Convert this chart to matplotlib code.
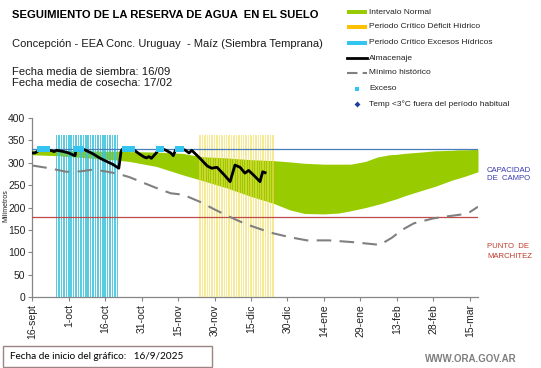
import matplotlib
matplotlib.use("Agg")
import matplotlib.pyplot as plt
from matplotlib.patches import Rectangle
from matplotlib.lines import Line2D
import numpy as np

plt.rcParams['font.family'] = ['Liberation Sans', 'DejaVu Sans']

# ---------------- data (day 0 = 16-sept-2025) ----------------
tick_labels = ['16-sept', '1-oct', '16-oct', '31-oct', '15-nov', '30-nov', '15-dic',
               '30-dic', '14-ene', '29-ene', '13-feb', '28-feb', '15-mar']
tick_days = [0, 15, 30, 45, 60, 75, 90, 105, 120, 135, 150, 165, 180]
x_end = 183.4

capacidad_campo = 330
punto_marchitez = 180

# Intervalo normal (lower / upper)
normal_days = [0, 10, 20, 30, 35, 40, 51, 62, 69, 80, 90, 99, 106, 112, 120, 126, 131,
               137, 142, 144, 147, 150, 153, 160, 166, 167, 173, 175, 178, 183.4]
normal_lo = [318, 316, 312, 308, 306, 303, 292, 273, 262, 244, 225, 210, 195, 187, 186, 188, 193,
             200, 207, 210, 215, 220, 226, 238, 248, 250, 262, 265, 270, 280]
normal_hi = [328, 328, 327, 326, 326, 325, 324, 321, 314, 311, 307, 305, 302, 299, 297, 297, 297,
             303, 313, 315, 318, 319, 321, 324, 327, 327, 328, 329, 329, 330]

# Mínimo histórico
min_days = [0, 7, 14, 20, 25, 30, 35, 40, 45, 51, 57, 62, 69, 75, 81, 88, 95, 99, 106,
            113, 122, 132, 143, 148, 152, 157, 165, 170, 177, 180, 183.4]
min_vals = [294, 288, 280, 281, 285, 281, 276, 268, 257, 244, 232, 229, 213, 196, 180, 163, 150,
            143, 134, 127, 127, 123, 117, 133, 150, 165, 176, 180, 185, 190, 202]

# Almacenaje
alm_days = [0, 1, 2, 3, 4, 5, 6, 7, 8, 9, 10, 11, 13, 15, 17, 17.6, 18, 19, 20, 21, 22, 25,
            28, 31, 33, 35, 35.6, 36.5, 37, 38, 39, 40, 41, 42, 44, 46, 47, 48, 49, 51, 52,
            53, 54, 55, 57, 58, 59, 60, 61, 62, 63, 64.5, 65.6, 69, 72, 73.8, 76, 79,
            81.4, 83.4, 85.5, 87.5, 89, 91, 93.7, 94.8, 95.8]
alm_vals = [322, 322, 325, 330, 330, 330, 330, 328, 327, 325, 328, 327, 325, 322, 317, 316, 330,
            330, 330, 330, 328, 320, 310, 302, 297, 290, 288, 325, 330, 330, 330, 330, 330, 328,
            320, 313, 311, 314, 310, 322, 330, 330, 330, 328, 322, 316, 329, 330, 330, 330, 328,
            322, 328, 310, 293, 288, 290, 273, 258, 295, 290, 277, 283, 273, 258, 280, 278]

# Exceso markers
exceso_days = [3, 4, 5, 6, 18, 19, 20, 38, 39, 40, 41, 52, 53, 60, 61]
exceso_val = 330

# Periodos críticos (daily bars)
periodo_exceso = (10, 35)
periodo_deficit = (69, 99)
periodo_altura = 362

# ---------------- figure ----------------
W, H = 541, 368
fig = plt.figure(figsize=(W / 100, H / 100), dpi=100)
fig.patch.set_facecolor('white')

left_px, right_px, bot_px, top_px = 32.3, 478, 297.3, 118
ax = fig.add_axes([left_px / W, 1 - bot_px / H, (right_px - left_px) / W, (bot_px - top_px) / H])

ax.fill_between(normal_days, normal_lo, normal_hi, color='#99cc00', linewidth=0, zorder=2)

ex_days = np.arange(periodo_exceso[0], periodo_exceso[1] + 1)
ax.bar(ex_days, [periodo_altura] * len(ex_days), width=0.62, color='#3cc3dc', alpha=0.85,
       linewidth=0, zorder=3)
de_days = np.arange(periodo_deficit[0], periodo_deficit[1] + 1)
ax.bar(de_days, [periodo_altura] * len(de_days), width=0.62, color='#f0dc50', alpha=0.6,
       linewidth=0, zorder=3)

ax.plot([0, x_end], [capacidad_campo] * 2, color='#4a7ebb', lw=0.9, zorder=4)
ax.plot([0, x_end], [punto_marchitez] * 2, color='#be4b48', lw=0.9, zorder=4)

ax.plot(min_days, min_vals, color='#808080', lw=1.5, dashes=(7, 4), zorder=4)
ax.plot(alm_days, alm_vals, color='black', lw=2.0, zorder=5, solid_joinstyle='round')
ax.plot(exceso_days, [exceso_val] * len(exceso_days), linestyle='none', marker='s',
        markersize=4, color='#33c5f0', markeredgewidth=0, zorder=6)

ax.set_xlim(0, x_end)
ax.set_ylim(0, 400)
ax.set_yticks(range(0, 401, 50))
ax.set_xticks(tick_days)
ax.set_xticklabels(tick_labels, rotation=90, fontsize=7.5, color='#222222')
ax.tick_params(axis='y', labelsize=7.5, labelcolor='#222222', length=3, width=0.8,
               color='#868686', pad=2)
ax.tick_params(axis='x', length=3, width=0.8, color='#868686', pad=2)
for s in ['top', 'right']:
    ax.spines[s].set_visible(False)
for s in ['left', 'bottom']:
    ax.spines[s].set_color('#868686')
    ax.spines[s].set_linewidth(0.9)

# ---------------- overlay for texts & legend (pixel coordinates) ----------------
ov = fig.add_axes([0, 0, 1, 1], zorder=10)
ov.set_xlim(0, W)
ov.set_ylim(H, 0)
ov.axis('off')
ov.patch.set_alpha(0)

ov.text(12, 15, 'SEGUIMIENTO DE LA RESERVA DE AGUA  EN EL SUELO', fontsize=8.15,
        fontweight='bold', va='center', ha='left', color='black')
ov.text(12, 44, 'Concepción - EEA Conc. Uruguay  - Maíz (Siembra Temprana)', fontsize=8.05,
        va='center', ha='left', color='#1a1a1a')
ov.text(12, 72, 'Fecha media de siembra: 16/09', fontsize=8.1, va='center', ha='left', color='#1a1a1a')
ov.text(12, 83, 'Fecha media de cosecha: 17/02', fontsize=8.1, va='center', ha='left', color='#1a1a1a')

ov.text(6, 206, 'Milímetros', fontsize=5, rotation=90, va='center', ha='center', color='#222222')

# legend
lx0, lx1, tx = 347, 367, 369
leg_fs = 6
ov.add_patch(Rectangle((lx0, 10), lx1 - lx0, 4, color='#99cc00', lw=0))
ov.text(tx, 12, 'Intervalo Normal', fontsize=leg_fs, va='center', color='#222222')
ov.add_patch(Rectangle((lx0, 25), lx1 - lx0, 4, color='#ffc000', lw=0))
ov.text(tx, 27, 'Periodo Crítico Déficit Hídrico', fontsize=leg_fs, va='center', color='#222222')
ov.add_patch(Rectangle((lx0, 41), lx1 - lx0, 4, color='#33c5f0', lw=0))
ov.text(tx, 43, 'Periodo Crítico Excesos Hídricos', fontsize=leg_fs, va='center', color='#222222')
ov.add_line(Line2D([lx0, lx1], [58, 58], color='black', lw=2))
ov.text(tx, 58, 'Almacenaje', fontsize=leg_fs, va='center', color='#222222')
ov.add_line(Line2D([lx0, lx1], [73, 73], color='#808080', lw=1.5, dashes=(5, 2.5)))
ov.text(tx, 73, 'Mínimo histórico', fontsize=leg_fs, va='center', color='#222222')
ov.plot([357], [89], marker='s', markersize=2.5, color='#33c5f0', markeredgewidth=0)
ov.text(tx, 89, 'Exceso', fontsize=leg_fs, va='center', color='#222222')
ov.plot([357], [104], marker='D', markersize=3, color='#1f3d99', markeredgewidth=0)
ov.text(tx, 104, 'Temp <3°C fuera del período habitual', fontsize=leg_fs, va='center', color='#222222')

# right side labels
ov.text(487, 170, 'CAPACIDAD', fontsize=5.6, va='center', color='#3a3ab0')
ov.text(487, 179, 'DE  CAMPO', fontsize=5.6, va='center', color='#3a3ab0')
ov.text(487, 247, 'PUNTO  DE', fontsize=5.6, va='center', color='#c0392b')
ov.text(487, 256, 'MARCHITEZ', fontsize=5.6, va='center', color='#c0392b')

# bottom box
ov.add_patch(Rectangle((3, 346), 209, 21, fill=False, edgecolor='#9e8484', lw=1))
ov.text(10, 356.5, 'Fecha de inicio del gráfico:   16/9/2025', fontsize=7.2, va='center',
        ha='left', color='black', family=['Lato', 'DejaVu Sans'])
ov.text(425, 359, 'WWW.ORA.GOV.AR', fontsize=7, fontweight='bold', va='center', ha='left',
        color='#7f7f7f')

fig.savefig('out.png', dpi=100, facecolor='white')
